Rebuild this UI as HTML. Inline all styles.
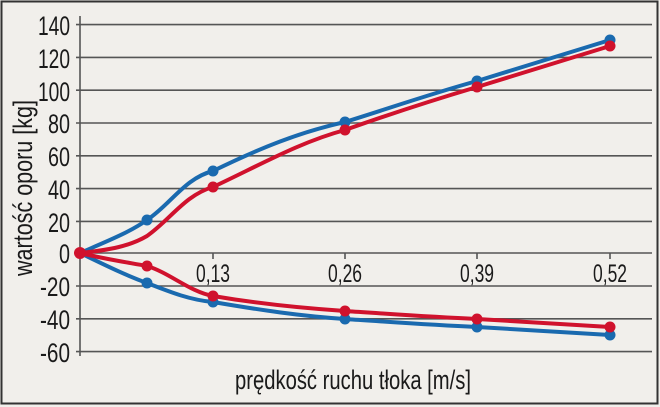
<!DOCTYPE html>
<html><head><meta charset="utf-8"><style>
html,body{margin:0;padding:0;background:#f1efeb;}
svg{display:block}
text{font-family:"Liberation Sans",sans-serif;fill:#1a1a1a}
</style></head><body>
<svg width="660" height="407" viewBox="0 0 660 407">
<rect x="0" y="0" width="660" height="407" fill="#f1efeb"/>
<rect x="1.5" y="1.5" width="656" height="402" fill="none" stroke="#333" stroke-width="2"/>
<g stroke="#555" stroke-width="1.6">
<line x1="76" y1="24.6" x2="652" y2="24.6"/>
<line x1="76" y1="57.4" x2="652" y2="57.4"/>
<line x1="76" y1="90.2" x2="652" y2="90.2"/>
<line x1="76" y1="123" x2="652" y2="123"/>
<line x1="76" y1="155.8" x2="652" y2="155.8"/>
<line x1="76" y1="188.6" x2="652" y2="188.6"/>
<line x1="76" y1="221.4" x2="652" y2="221.4"/>
<line x1="76" y1="253" x2="652" y2="253"/>
<line x1="76" y1="286" x2="652" y2="286"/>
<line x1="76" y1="318.8" x2="652" y2="318.8"/>
<line x1="76" y1="351.6" x2="652" y2="351.6"/>
<line x1="80" y1="16" x2="80" y2="356"/>
<line x1="213" y1="253" x2="213" y2="259"/>
<line x1="345" y1="253" x2="345" y2="259"/>
<line x1="477" y1="253" x2="477" y2="259"/>
<line x1="610" y1="253" x2="610" y2="259"/>
</g>
<g font-size="27">
<text x="38" y="35" textLength="32" lengthAdjust="spacingAndGlyphs">140</text>
<text x="38" y="68" textLength="32" lengthAdjust="spacingAndGlyphs">120</text>
<text x="38" y="101" textLength="32" lengthAdjust="spacingAndGlyphs">100</text>
<text x="48" y="133" textLength="22" lengthAdjust="spacingAndGlyphs">80</text>
<text x="48" y="166" textLength="22" lengthAdjust="spacingAndGlyphs">60</text>
<text x="48" y="199" textLength="22" lengthAdjust="spacingAndGlyphs">40</text>
<text x="48" y="232" textLength="22" lengthAdjust="spacingAndGlyphs">20</text>
<text x="59" y="263" textLength="11" lengthAdjust="spacingAndGlyphs">0</text>
<text x="40" y="296" textLength="30" lengthAdjust="spacingAndGlyphs">-20</text>
<text x="40" y="329" textLength="30" lengthAdjust="spacingAndGlyphs">-40</text>
<text x="40" y="362" textLength="30" lengthAdjust="spacingAndGlyphs">-60</text>
</g>
<g font-size="25">
<text x="196" y="282" textLength="34" lengthAdjust="spacingAndGlyphs">0,13</text>
<text x="328" y="282" textLength="34" lengthAdjust="spacingAndGlyphs">0,26</text>
<text x="460" y="282" textLength="34" lengthAdjust="spacingAndGlyphs">0,39</text>
<text x="593" y="282" textLength="34" lengthAdjust="spacingAndGlyphs">0,52</text>
<text x="235" y="389" font-size="27" textLength="236" lengthAdjust="spacingAndGlyphs">prędkość ruchu tłoka [m/s]</text>
<text transform="translate(32,276) rotate(-90)" font-size="27" textLength="176" lengthAdjust="spacingAndGlyphs">wartość oporu [kg]</text>
</g>
<g fill="none" stroke-width="4" stroke-linecap="round">
<path stroke="#1a6aaf" d="M80,253 C110,240 130,232 147,220 C170,205 185,178 213,171 C260,148 300,132 345,122 C390,108 430,94 477,81 L610,40"/>
<path stroke="#d0122d" d="M80,253 C110,250 130,246 147,236 C170,220 185,195 213,187 C260,165 300,142 345,130 C390,114 430,101 477,87 L610,46"/>
<path stroke="#1a6aaf" d="M80,253 C105,265 125,275 147,283 C170,292 190,300 213,302 C260,310 300,316 345,319 C390,322 430,325 477,327 L610,335"/>
<path stroke="#d0122d" d="M80,253 C105,259 125,262 147,266 C170,273 190,292 213,296 C260,304 300,308 345,311 C390,314 430,317 477,319 L610,327"/>
</g>
<g fill="#1a6aaf">
<circle cx="147" cy="220" r="5.5"/><circle cx="213" cy="171" r="5.5"/><circle cx="345" cy="122" r="5.5"/><circle cx="477" cy="81" r="5.5"/><circle cx="610" cy="40" r="5.5"/>
<circle cx="147" cy="283" r="5.5"/><circle cx="213" cy="302" r="5.5"/><circle cx="345" cy="319" r="5.5"/><circle cx="477" cy="327" r="5.5"/><circle cx="610" cy="335" r="5.5"/>
</g>
<g fill="#d0122d">
<circle cx="80" cy="253" r="6"/>
<circle cx="213" cy="187" r="5.5"/><circle cx="345" cy="130" r="5.5"/><circle cx="477" cy="87" r="5.5"/><circle cx="610" cy="46" r="5.5"/>
<circle cx="147" cy="266" r="5.5"/><circle cx="213" cy="296" r="5.5"/><circle cx="345" cy="311" r="5.5"/><circle cx="477" cy="319" r="5.5"/><circle cx="610" cy="327" r="5.5"/>
</g>
</svg>
</body></html>
